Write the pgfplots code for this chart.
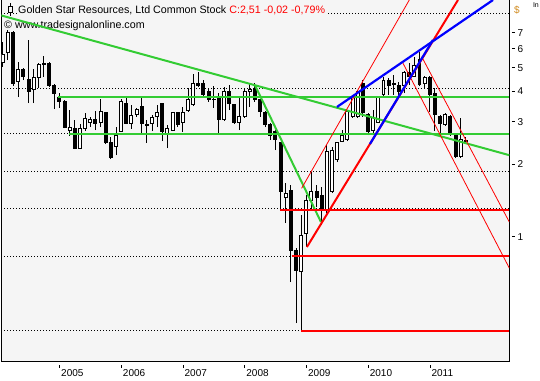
\documentclass[border=0pt]{standalone}
\usepackage{pgfplots}
\pgfplotsset{compat=1.18}
\usepackage{pgfplotstable}
\usepackage{fontspec}
\setmainfont{Liberation Sans}
\definecolor{bgc}{HTML}{F5F5F5}
\definecolor{gline}{HTML}{33CC33}
\definecolor{rline}{HTML}{FF0000}
\definecolor{bline}{HTML}{0000FF}
\definecolor{dollar}{HTML}{D08A1E}

\pgfplotstableread{
x O H L C
1 5.29 6.41 5.05 5.71
2 5.82 7.18 5.40 6.98
3 6.98 7.11 4.21 4.33
4 4.38 5.29 3.79 4.91
5 4.91 5.00 4.46 4.59
6 4.50 6.53 3.58 3.98
7 4.06 4.95 3.58 4.55
8 4.55 5.24 4.13 5.19
9 5.15 5.61 4.59 5.24
10 5.24 5.29 4.17 4.25
11 4.25 4.29 3.38 3.94
12 3.79 3.94 3.42 3.65
13 3.62 3.69 2.82 2.85
14 2.77 3.35 2.62 2.85
15 2.80 3.05 2.31 2.33
16 2.33 2.93 2.31 2.82
17 2.80 3.26 2.74 3.08
18 2.98 3.14 2.85 3.05
19 3.05 3.32 2.77 2.96
20 2.99 3.72 2.85 3.32
21 3.26 3.29 2.42 2.45
22 2.47 2.59 2.10 2.14
23 2.36 2.85 2.18 2.62
24 2.74 3.72 2.72 3.62
25 3.58 3.76 2.93 2.96
26 2.96 3.52 2.80 3.17
27 3.20 3.42 3.14 3.38
28 3.48 3.76 2.69 2.96
29 2.93 3.05 2.45 2.88
30 2.96 3.20 2.74 3.11
31 3.14 3.52 2.85 3.26
32 3.55 3.58 2.49 2.72
33 2.69 2.91 2.33 2.80
34 2.77 3.29 2.74 3.26
35 3.26 3.29 2.85 2.91
36 2.99 3.45 2.72 3.26
37 3.35 4.13 3.29 3.69
38 3.52 4.72 3.48 4.33
39 4.33 4.81 4.17 4.25
40 4.33 4.46 3.76 3.90
41 3.98 4.13 3.62 3.69
42 3.69 4.21 3.42 3.72
43 3.83 3.94 2.69 3.05
44 3.05 4.17 3.02 3.98
45 3.98 4.25 3.35 3.55
46 3.52 3.55 2.93 2.99
47 2.99 3.79 2.77 3.14
48 3.14 4.09 3.11 3.98
49 3.98 4.29 3.45 4.06
50 4.13 4.33 3.62 3.69
51 3.69 3.72 3.14 3.29
52 3.26 3.32 2.85 2.91
53 2.91 2.96 2.52 2.64
54 2.72 2.77 2.29 2.52
55 2.45 2.47 1.29 1.54
56 1.45 1.67 1.14 1.52
57 1.56 1.64 0.65 0.88
58 0.88 0.90 0.44 0.73
59 0.72 1.23 0.41 1.01
60 1.03 1.49 0.91 1.42
61 1.42 1.86 1.29 1.54
62 1.54 1.64 1.33 1.46
63 1.49 1.61 1.12 1.29
64 1.29 2.40 1.26 2.25
65 1.54 2.36 1.52 2.29
66 2.10 2.47 2.04 2.45
67 2.49 2.77 2.47 2.64
68 2.52 3.35 2.49 3.29
69 3.14 3.87 3.11 3.79
70 3.14 4.06 3.11 3.98
71 4.33 4.46 3.14 3.26
72 3.20 3.26 2.64 2.72
73 2.77 3.35 2.69 3.11
74 2.99 3.83 2.96 3.79
75 3.87 4.59 3.79 4.46
76 4.46 4.55 3.87 4.25
77 4.29 4.68 3.87 4.33
78 4.25 4.38 3.87 3.98
79 4.25 4.86 3.94 4.77
80 4.81 5.24 4.25 4.59
81 4.63 5.55 4.59 5.10
82 5.40 5.82 4.21 4.29
83 4.33 4.63 4.13 4.55
84 4.55 4.63 3.29 3.87
85 3.94 4.13 2.74 3.20
86 3.14 3.20 2.69 2.96
87 2.93 3.26 2.88 3.20
88 3.14 3.20 2.62 2.67
89 2.62 2.64 2.12 2.16
90 2.16 3.11 2.12 2.54
91 2.49 2.59 2.45 2.51
}\candles

\newcommand\ytk{\rule[3.3bp]{3.4bp}{0.8bp}\hspace{2.4bp}}
\newcommand\xtk{\rule[8.2bp]{0.8bp}{3.5bp}\hspace{1.2bp}}
\newcommand\lblfont{\fontsize{10bp}{12bp}\selectfont}
\newcommand\ttlfont{\fontsize{10.7bp}{12bp}\selectfont}

\begin{document}
\begin{tikzpicture}[x=1bp,y=1bp]
\path[use as bounding box] (-1.3,-19) rectangle (538.7,361);
\begin{axis}[
  at={(0,0)}, anchor=south west,
  width=508bp, height=361bp, scale only axis,
  ymode=log,
  xmin=0.70, xmax=99.46, ymin=0.307, ymax=9.556,
  axis background/.style={fill=bgc},
  axis line style={line width=1bp, black},
  tick style={draw=none},
  major tick length=0pt,
  ytick={1,2,3,4,5,6,7},
  yticklabels={{\ytk 1},{\ytk 2},{\ytk 3},{\ytk 4},{\ytk 5},{\ytk 6},{\ytk 7}},
  yticklabel pos=right,
  yticklabel style={anchor=west, inner sep=0pt, xshift=2.4bp, font=\lblfont},
  xtick={12,24,36,48,60,72,84},
  xticklabels={{\xtk 2005},{\xtk 2006},{\xtk 2007},{\xtk 2008},{\xtk 2009},{\xtk 2010},{\xtk 2011}},
  xticklabel style={anchor=north west, inner sep=0pt, yshift=-3.5bp, xshift=-0.4bp, font=\lblfont},
  clip=true,
]
% dotted grid lines
\addplot[black, line width=0.8bp, dash pattern=on 0.8bp off 2.2bp] coordinates {(0.7,8.44) (99.46,8.44)};
\addplot[black, line width=0.8bp, dash pattern=on 0.8bp off 2.2bp] coordinates {(0.7,4.13) (99.46,4.13)};
\addplot[black, line width=0.8bp, dash pattern=on 0.8bp off 2.2bp] coordinates {(0.7,2.67) (99.46,2.67)};
\addplot[black, line width=0.8bp, dash pattern=on 0.8bp off 2.2bp] coordinates {(0.7,1.86) (99.46,1.86)};
\addplot[black, line width=0.8bp, dash pattern=on 0.8bp off 2.2bp] coordinates {(0.7,1.31) (99.46,1.31)};
\addplot[black, line width=0.8bp, dash pattern=on 0.8bp off 2.2bp] coordinates {(0.7,0.834) (99.46,0.834)};
\addplot[black, line width=0.8bp, dash pattern=on 0.8bp off 2.2bp] coordinates {(0.7,0.409) (99.46,0.409)};

% title block (covers grid line)
\node[anchor=base west, fill=bgc, inner xsep=1bp, inner ysep=2bp, font=\ttlfont] at (axis description cs:0,1) [xshift=15.7bp, yshift=-13.7bp] {Golden Star Resources, Ltd Common Stock \textcolor{rline}{C:2,51 -0,02 -0,79\%}};
\node[anchor=base west, inner sep=0pt, font=\ttlfont] at (axis description cs:0,1) [xshift=2.7bp, yshift=-29bp] {\textcopyright\ www.tradesignalonline.com};

% candles
\pgfplotsinvokeforeach{0,...,90}{%
  \pgfplotstablegetelem{#1}{x}\of\candles\let\cx\pgfplotsretval
  \pgfplotstablegetelem{#1}{O}\of\candles\let\cO\pgfplotsretval
  \pgfplotstablegetelem{#1}{H}\of\candles\let\cH\pgfplotsretval
  \pgfplotstablegetelem{#1}{L}\of\candles\let\cL\pgfplotsretval
  \pgfplotstablegetelem{#1}{C}\of\candles\let\cC\pgfplotsretval
  \pgfmathsetmacro\xl{\cx-0.29}%
  \pgfmathsetmacro\xr{\cx+0.29}%
  \ifdim\cC pt<\cO pt\def\cf{black}\else\def\cf{white}\fi
  \edef\doit{%
    \noexpand\addplot[black, line width=1bp, forget plot] coordinates {(\cx,\cL) (\cx,\cH)};%
    \noexpand\addplot[draw=black, fill=\cf, line width=1bp, forget plot] coordinates {(\xl,\cO) (\xr,\cO) (\xr,\cC) (\xl,\cC)} -- cycle;%
  }%
  \doit
}

% green lines
\addplot[gline, line width=2bp] coordinates {(0.41,8.28) (99.46,2.18)};
\addplot[gline, line width=2bp] coordinates {(11.69,3.79) (99.46,3.79)};
\addplot[gline, line width=2bp] coordinates {(13.89,2.67) (99.46,2.67)};
\addplot[gline, line width=2bp] coordinates {(50.0,4.25) (62.84,1.154)};
% red lines
\addplot[rline, line width=2bp] coordinates {(54.86,1.29) (99.46,1.29)};
\addplot[rline, line width=2bp] coordinates {(57.14,0.834) (99.46,0.834)};
\addplot[rline, line width=2bp] coordinates {(58.95,0.409) (99.46,0.409)};
\addplot[rline, line width=2bp] coordinates {(60.11,0.909) (89.48,9.556)};
\addplot[rline, line width=0.8bp] coordinates {(59.08,1.59) (80.01,9.556)};
\addplot[rline, line width=0.8bp] coordinates {(78.78,5.24) (99.46,0.744)};
\addplot[rline, line width=0.8bp] coordinates {(82.42,5.57) (99.46,1.154)};
% blue lines
\addplot[bline, line width=2.2bp] coordinates {(65.95,3.45) (96.29,9.556)};
\addplot[bline, line width=2.2bp] coordinates {(72.37,2.425) (84.62,6.53)};
\end{axis}
% title icon
\draw[black, line width=0.8bp] (9.5,357.5) -- (9.5,345);
\draw[black, fill=bgc, line width=0.8bp] (7.5,348.3) rectangle (11.5,355);
% unit label and small text at the corner
\node[anchor=west, inner sep=0pt, text=dollar, font=\lblfont] at (512.7,351) {\$};
\node[anchor=base west, inner sep=0pt, font=\fontsize{7bp}{8bp}\selectfont] at (531.5,354) {In};
\end{tikzpicture}
\end{document}
